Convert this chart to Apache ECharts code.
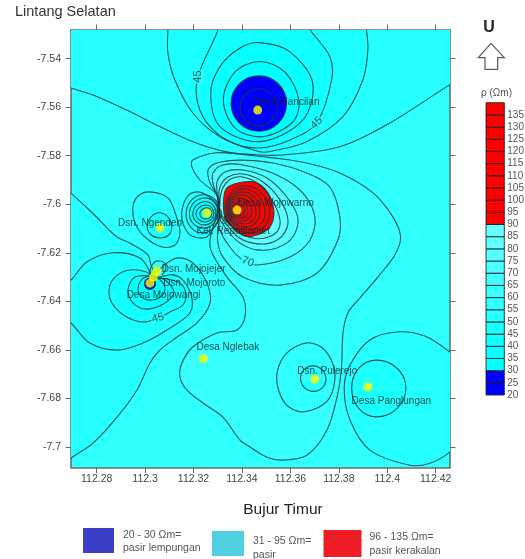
<!DOCTYPE html>
<html><head><meta charset="utf-8">
<style>html,body{margin:0;padding:0;background:#fff}#c{width:525px;height:559px}</style>
<script src="https://cdn.jsdelivr.net/npm/echarts@6/dist/echarts.min.js"></script>
</head><body><div id="c"></div>
<script>
const xTicks=[112.28,112.30,112.32,112.34,112.36,112.38,112.40,112.42];
const yTicks=[-7.54,-7.56,-7.58,-7.60,-7.62,-7.64,-7.66,-7.68,-7.70];
const stationNames=['Desa Mancilan','Desa Wojowarno','Kel. Reposlamet','Dsn. Ngenden','Dsn. Mojojejer','Dsn. Mojoroto','Desa Mojowangi','Desa Nglebak','Dsn. Pulerejo','Desa Panglungan'];
const stationLons=[112.3465,112.3380,112.3255,112.3062,112.3049,112.3034,112.3020,112.3241,112.3701,112.3920];
const stationLats=[-7.5612,-7.6024,-7.6036,-7.6097,-7.6275,-7.6300,-7.6325,-7.6636,-7.6720,-7.6752];
const barLevels=[20,25,30,35,40,45,50,55,60,65,70,75,80,85,90,95,100,105,110,115,120,125,130,135];
const barColors=['#0000ff','#0000ff','#00ffff','#09ffff','#13ffff','#1cffff','#25ffff','#2effff','#38ffff','#41ffff','#4affff','#53ffff','#5dffff','#66ffff','#ff0000','#ff0000','#ff0000','#ff0000','#ff0000','#ff0000','#ff0000','#ff0000','#ff0000','#ff0000'];
const contourLabelText=['45','45','70','45','85'];
const contourLabelLons=[112.3218,112.3708,112.3424,112.3053,112.3342];
const contourLabelLats=[-7.5474,-7.5665,-7.6237,-7.6469,-7.6065];

const m55=[[112.24,-7.5400],[112.2607,-7.5488],[112.2694,-7.5521],[112.2785,-7.5550],[112.2924,-7.5612],[112.3061,-7.5680],[112.3197,-7.5742],[112.3337,-7.5784],[112.3474,-7.5797],[112.3569,-7.5797],[112.3804,-7.5763],[112.4011,-7.5665],[112.4258,-7.5508],[112.4340,-7.5467],[112.46,-7.5300],[112.46,-7.49],[112.24,-7.49]];
const m50=[[112.3094,-7.5240],[112.3094,-7.5281],[112.3094,-7.5376],[112.3123,-7.5488],[112.3197,-7.5624],[112.3309,-7.5722],[112.3474,-7.5784],[112.3528,-7.5780],[112.3667,-7.5742],[112.3817,-7.5639],[112.3899,-7.5488],[112.3920,-7.5364],[112.3914,-7.5281],[112.3907,-7.5240]];
const m45=[[112.3301,-7.5240],[112.3301,-7.5281],[112.3218,-7.5474],[112.3217,-7.5583],[112.3268,-7.5680],[112.3363,-7.5748],[112.3474,-7.5768],[112.3598,-7.5735],[112.3708,-7.5665],[112.3770,-7.5488],[112.3763,-7.5392],[112.3681,-7.5281],[112.3660,-7.5240]];
const m40=[[112.3474,-7.5334],[112.3598,-7.5372],[112.3692,-7.5500],[112.3651,-7.5653],[112.3474,-7.5742],[112.3309,-7.5680],[112.3271,-7.5541],[112.3309,-7.5433],[112.3392,-7.5356]];
const m35=[[112.3474,-7.5412],[112.3577,-7.5455],[112.3635,-7.5570],[112.3610,-7.5661],[112.3482,-7.5722],[112.3371,-7.5685],[112.3323,-7.5570],[112.3371,-7.5455]];
const m30=[[112.3355,-7.5585],[112.3470,-7.5471],[112.3584,-7.5585],[112.3470,-7.5699]];
const m25=[[112.3393,-7.5599],[112.3468,-7.5524],[112.3544,-7.5599],[112.3468,-7.5677]];

const k60=[[112.3309,-7.5994],[112.3289,-7.5953],[112.3226,-7.5900],[112.3193,-7.5846],[112.3197,-7.5818],[112.3292,-7.5788],[112.3392,-7.5794],[112.3528,-7.5809],[112.3667,-7.5830],[112.3804,-7.5871],[112.3941,-7.5953],[112.4023,-7.6052],[112.4055,-7.6135],[112.4031,-7.6209],[112.3961,-7.6300],[112.3879,-7.6395],[112.3837,-7.6448],[112.3817,-7.6531],[112.3811,-7.6671],[112.3796,-7.6778],[112.3751,-7.6930],[112.3668,-7.7034],[112.3569,-7.7054],[112.3503,-7.7042],[112.3433,-7.7000],[112.3392,-7.6972],[112.3321,-7.6877],[112.3239,-7.6819],[112.3173,-7.6766],[112.3144,-7.6712],[112.3152,-7.6654],[112.3197,-7.6588],[112.3297,-7.6530],[112.3380,-7.6518],[112.3412,-7.6465],[112.3404,-7.6382],[112.3338,-7.6300],[112.3276,-7.6200],[112.3268,-7.6147],[112.3289,-7.6065]];
const k65=[[112.3392,-7.5818],[112.3528,-7.5830],[112.3667,-7.5871],[112.3763,-7.5929],[112.3804,-7.6052],[112.3796,-7.6147],[112.3710,-7.6283],[112.3557,-7.6333],[112.3404,-7.6300],[112.3321,-7.6217],[112.3299,-7.6147],[112.3305,-7.6085],[112.3305,-7.6003],[112.3297,-7.5961],[112.3268,-7.5912],[112.3260,-7.5859],[112.3297,-7.5830]];
const k70=[[112.3301,-7.5982],[112.3280,-7.5912],[112.3280,-7.5871],[112.3321,-7.5838],[112.3404,-7.5838],[112.3544,-7.5879],[112.3651,-7.5953],[112.3701,-7.6052],[112.3681,-7.6147],[112.3598,-7.6217],[112.3462,-7.6250],[112.3404,-7.6230],[112.3350,-7.6176],[112.3309,-7.6106],[112.3297,-7.6036]];
const k75=[[112.3301,-7.5982],[112.3297,-7.5908],[112.3330,-7.5867],[112.3404,-7.5859],[112.3503,-7.5892],[112.3585,-7.5970],[112.3631,-7.6057],[112.3610,-7.6135],[112.3544,-7.6180],[112.3462,-7.6188],[112.3392,-7.6160],[112.3338,-7.6106],[112.3301,-7.6044]];
const k80=[[112.3305,-7.5982],[112.3309,-7.5929],[112.3342,-7.5888],[112.3404,-7.5875],[112.3487,-7.5908],[112.3557,-7.5982],[112.3590,-7.6065],[112.3569,-7.6127],[112.3515,-7.6160],[112.3445,-7.6160],[112.3384,-7.6135],[112.3338,-7.6085],[112.3305,-7.6036]];
const k85=[[112.3309,-7.5982],[112.3321,-7.5933],[112.3354,-7.5896],[112.3404,-7.5888],[112.3474,-7.5921],[112.3528,-7.5990],[112.3557,-7.6065],[112.3544,-7.6114],[112.3495,-7.6139],[112.3441,-7.6139],[112.3384,-7.6114],[112.3342,-7.6073],[112.3309,-7.6036]];
const r90=[[112.3325,-7.5970],[112.3342,-7.5929],[112.3404,-7.5908],[112.3462,-7.5912],[112.3507,-7.5953],[112.3532,-7.6032],[112.3515,-7.6094],[112.3462,-7.6127],[112.3412,-7.6131],[112.3363,-7.6098],[112.3330,-7.6057]];
const r95=[[112.3331,-7.6019],[112.3416,-7.5924],[112.3515,-7.6032],[112.3425,-7.6118]];
const r100=[[112.3338,-7.6019],[112.3412,-7.5937],[112.3495,-7.6032],[112.3421,-7.6106]];
const r105=[[112.3342,-7.6021],[112.3408,-7.5949],[112.3474,-7.6032],[112.3412,-7.6094]];
const r110=[[112.3346,-7.6021],[112.3404,-7.5961],[112.3458,-7.6032],[112.3408,-7.6081]];
const r115=[[112.3350,-7.6022],[112.3396,-7.5974],[112.3441,-7.6028],[112.3400,-7.6069]];
const r120=[[112.3356,-7.6024],[112.3392,-7.5986],[112.3425,-7.6028],[112.3394,-7.6057]];
const r125=[[112.3363,-7.6026],[112.3388,-7.5996],[112.3412,-7.6025],[112.3388,-7.6048]];
const r130=[[112.3367,-7.6026],[112.3384,-7.6007],[112.3400,-7.6024],[112.3384,-7.6040]];

const kel55=[[112.3151,-7.6036],[112.3173,-7.5970],[112.3214,-7.5949],[112.3260,-7.5966],[112.3301,-7.6007],[112.3317,-7.6044],[112.3295,-7.6077],[112.3254,-7.6135],[112.3193,-7.6131],[112.3160,-7.6089]];
const kel50=[[112.3169,-7.6040],[112.3239,-7.5961],[112.3309,-7.6032],[112.3239,-7.6118]];
const kel45=[[112.3183,-7.6040],[112.3243,-7.5974],[112.3301,-7.6032],[112.3243,-7.6098]];
const kel40=[[112.3197,-7.6040],[112.3247,-7.5989],[112.3292,-7.6034],[112.3247,-7.6085]];
const kel35=[[112.3210,-7.6040],[112.3249,-7.6003],[112.3284,-7.6036],[112.3249,-7.6073]];
const kel33=[[112.3226,-7.6040],[112.3251,-7.6015],[112.3276,-7.6036],[112.3251,-7.6061]];

const nge55=[[112.3020,-7.5949],[112.3094,-7.5974],[112.3127,-7.6044],[112.3144,-7.6118],[112.3123,-7.6168],[112.3070,-7.6176],[112.3004,-7.6139],[112.2962,-7.6085],[112.2949,-7.6015],[112.2971,-7.5966]];
const nge50=[[112.3009,-7.6093],[112.3061,-7.6035],[112.3110,-7.6098],[112.3061,-7.6139]];

const d55=[[112.2628,-7.5900],[112.2694,-7.5955],[112.2785,-7.6038],[112.2882,-7.6134],[112.2937,-7.6160],[112.3012,-7.6209],[112.3024,-7.6250],[112.3041,-7.6279],[112.3090,-7.6242],[112.3136,-7.6221],[112.3197,-7.6242],[112.3255,-7.6324],[112.3268,-7.6407],[112.3214,-7.6489],[112.3132,-7.6547],[112.3061,-7.6601],[112.3020,-7.6654],[112.2966,-7.6766],[112.2884,-7.6877],[112.2785,-7.6984],[112.2694,-7.7046],[112.2628,-7.7096]];
const d50=[[112.2628,-7.6353],[112.2694,-7.6312],[112.2759,-7.6238],[112.2867,-7.6200],[112.2979,-7.6221],[112.3020,-7.6279],[112.3032,-7.6308],[112.3074,-7.6296],[112.3115,-7.6291],[112.3156,-7.6312],[112.3192,-7.6382],[112.3185,-7.6448],[112.3090,-7.6518],[112.2991,-7.6572],[112.2884,-7.6601],[112.2772,-7.6572],[112.2694,-7.6489],[112.2628,-7.6436]];
const d45=[[112.3006,-7.6279],[112.3032,-7.6300],[112.3090,-7.6308],[112.3144,-7.6325],[112.3168,-7.6366],[112.3156,-7.6415],[112.3103,-7.6444],[112.3053,-7.6469],[112.2991,-7.6485],[112.2917,-7.6460],[112.2863,-7.6407],[112.2852,-7.6345],[112.2880,-7.6296],[112.2937,-7.6271]];
const d40=[[112.2929,-7.6353],[112.2958,-7.6300],[112.3028,-7.6296],[112.3082,-7.6312],[112.3119,-7.6362],[112.3082,-7.6407],[112.3008,-7.6432],[112.2950,-7.6407]];
const d35=[[112.2971,-7.6349],[112.3020,-7.6296],[112.3082,-7.6349],[112.3020,-7.6395]];
const d30=[[112.2997,-7.6327],[112.3020,-7.6304],[112.3043,-7.6327],[112.3020,-7.6351]];
const dTop=[[112.3020,-7.6291],[112.3032,-7.6246],[112.3061,-7.6234],[112.3086,-7.6254],[112.3070,-7.6291]];

const pul60=[[112.3543,-7.6716],[112.3577,-7.6621],[112.3667,-7.6571],[112.3742,-7.6601],[112.3784,-7.6695],[112.3755,-7.6807],[112.3652,-7.6856],[112.3577,-7.6819]];
const pul55=[[112.3642,-7.6716],[112.3694,-7.6666],[112.3747,-7.6720],[112.3694,-7.6771]];
const pan55=[[112.4258,-7.6609],[112.4155,-7.6543],[112.4040,-7.6526],[112.3928,-7.6559],[112.3846,-7.6662],[112.3822,-7.6757],[112.3846,-7.6889],[112.3928,-7.7013],[112.4093,-7.7075],[112.4176,-7.7067],[112.4258,-7.7021],[112.4340,-7.6930],[112.4340,-7.6683]];
const pan50=[[112.3853,-7.6757],[112.3956,-7.6642],[112.4077,-7.6757],[112.3956,-7.6876]];

// contour, band index it encloses, open (closing edge is not drawn)
const contours=[
 [m55,50,1],[m50,45,1],[m45,40,1],[m40,35],[m35,30],[m30,25],[m25,20],
 [k60,60],[k65,65],[k70,70],[k75,75],[k80,80],[k85,85],[r90,90],[r95,95],[r100,100],[r105,105],[r110,110],[r115,115],[r120,120],[r125,125],[r130,130],
 [d55,50,1],[d50,45,1],[d45,40],[d40,35],[d35,30],[d30,25],[dTop,null,2],
 [nge55,50],[nge50,45],
 [kel55,50],[kel50,45],[kel45,40],[kel40,35],[kel35,30],[kel33,30],
 [pul60,55],[pul55,50],[pan55,50],[pan50,45]
];
const BG='#2effff', LINE='rgba(20,58,62,0.85)', FONT='"Liberation Sans",Arial,sans-serif';
const bandColor=b=>barColors[barLevels.indexOf(b)];
const smoothFor=pts=>pts.length<=5?0.55:0.33;

function fillItem(p,api){
  const c=contours[p.dataIndex]; if(c[1]==null) return {type:'group',children:[]};
  return {type:'polygon',shape:{points:c[0].map(q=>api.coord(q)),smooth:smoothFor(c[0]),smoothConstraint:false},style:{fill:bandColor(c[1]),stroke:null}};
}
function lineItem(p,api){
  const c=contours[p.dataIndex], pts=c[0].map(q=>api.coord(q));
  return {type:c[2]?'polyline':'polygon',shape:{points:pts,smooth:smoothFor(c[0]),smoothConstraint:false},style:{fill:null,stroke:LINE,lineWidth:1.1}};
}
const idx=contours.map((c,i)=>[i]);
const fmt=v=>String(+(+v).toFixed(2));
const axisLine={show:true,onZero:false,lineStyle:{color:'#5f6b6b',width:1.5}};
const tickStyle=vals=>({show:true,length:5.5,customValues:vals,lineStyle:{color:'#5f6b6b',width:1}});
const X={type:'value',min:112.2694,max:112.4259,gridIndex:0,splitLine:{show:false},axisLine};
const Y={type:'value',min:-7.7085,max:-7.5282,gridIndex:0,splitLine:{show:false},axisLine};
const labelShift={ 'Desa Mancilan':[-8.9,-8.3],'Desa Wojowarno':[-3.8,-7.3],'Kel. Reposlamet':[-14.8,18.7],'Dsn. Ngenden':[-46.5,-5],'Dsn. Mojojejer':[0.2,-1.7],'Dsn. Mojoroto':[5.3,5.7],'Desa Mojowangi':[-27.8,12],'Desa Nglebak':[-11.5,-11.4],'Dsn. Pulerejo':[-22.2,-8],'Desa Panglungan':[-20.8,14.3]};
const labelRot=[90,45,-20,15,70], labelBg=['#2effff','#25ffff','#41ffff','#25ffff','transparent'];

const legendSw=[
 {c:'#3b3fc7',x:83,y:528,w:31,h:25,t:['20 - 30 Ωm=','pasir lempungan'],tx:123,ty:[535,548.5]},
 {c:'#4fd0e0',x:212,y:531,w:32,h:25,t:['31 - 95 Ωm=','pasir'],tx:253,ty:[541,555]},
 {c:'#ee1c25',x:323.5,y:530,w:38,h:27,t:['96 - 135 Ωm=','pasir kerakalan'],tx:369.5,ty:[537,551]}
];
const gfx=[
 {type:'text',x:15,y:12,style:{text:'Lintang Selatan',font:'14.5px '+FONT,fill:'#333',align:'left',verticalAlign:'middle'}},
 {type:'text',x:283,y:509.5,style:{text:'Bujur Timur',font:'15.5px '+FONT,fill:'#222',align:'center',verticalAlign:'middle'}},
 {type:'text',x:489,y:28,style:{text:'U',font:'bold 16px '+FONT,fill:'#222',align:'center',verticalAlign:'middle'}},
 {type:'polygon',shape:{points:[[491,43.3],[478.3,57.7],[485,57.7],[485,69.3],[497.7,69.3],[497.7,57.7],[504.3,57.7]]},style:{fill:'#fff',stroke:'#5a5a5a',lineWidth:1.2}},
 {type:'text',x:496.5,y:93.5,style:{text:'ρ (Ωm)',font:'10px '+FONT,fill:'#5a4a5a',align:'center',verticalAlign:'middle'}}
];
legendSw.forEach(s=>{
  gfx.push({type:'rect',shape:{x:s.x,y:s.y,width:s.w,height:s.h},style:{fill:s.c}});
  s.t.forEach((t,i)=>gfx.push({type:'text',x:s.tx,y:s.ty[i],style:{text:t,font:'10.5px '+FONT,fill:'#555',align:'left',verticalAlign:'middle'}}));
});

const chart=echarts.init(document.getElementById('c'),null,{renderer:'canvas'});
chart.setOption({
 animation:false,backgroundColor:'#fff',
 grid:[
  {left:71,top:30,width:379,height:437.6,show:true,backgroundColor:BG,borderWidth:0,containLabel:false,outerBoundsMode:'none'},
  {left:486,top:102.7,width:18.3,height:292.3,containLabel:false,outerBoundsMode:'none'}
 ],
 xAxis:[
  {...X,position:'bottom',axisTick:tickStyle(xTicks),axisLabel:{show:true,customValues:xTicks,formatter:fmt,color:'#444',fontSize:10.5,fontFamily:FONT,margin:6}},
  {...X,position:'top',axisTick:tickStyle(xTicks),axisLabel:{show:false}},
  {type:'value',gridIndex:1,min:0,max:1,show:false}
 ],
 yAxis:[
  {...Y,position:'left',axisTick:tickStyle(yTicks),axisLabel:{show:true,customValues:yTicks,formatter:fmt,color:'#444',fontSize:10.5,fontFamily:FONT,margin:10}},
  {...Y,position:'right',axisTick:tickStyle(yTicks),axisLabel:{show:false}},
  {type:'value',gridIndex:1,position:'right',min:20,max:140,interval:5,splitLine:{show:false},axisLine:{show:false},axisTick:{show:false},
   axisLabel:{color:'#555',fontSize:10,fontFamily:FONT,margin:3,showMaxLabel:false}}
 ],
 series:[
  {type:'custom',coordinateSystem:'cartesian2d',xAxisIndex:0,yAxisIndex:0,clip:true,silent:true,z:2,data:idx,renderItem:fillItem,encode:{x:[],y:[]}},
  {type:'custom',coordinateSystem:'cartesian2d',xAxisIndex:0,yAxisIndex:0,clip:true,silent:true,z:3,data:idx,renderItem:lineItem,encode:{x:[],y:[]}},
  {type:'scatter',xAxisIndex:0,yAxisIndex:0,z:4,symbolSize:0,silent:true,
   data:contourLabelText.map((t,i)=>({value:[contourLabelLons[i],contourLabelLats[i]],
     label:{show:true,position:'inside',formatter:t,rotate:labelRot[i],color:'#14302f',fontSize:11,fontFamily:FONT,backgroundColor:labelBg[i],padding:[0,1]}}))},
  {type:'scatter',xAxisIndex:0,yAxisIndex:0,z:5,symbol:'circle',symbolSize:9,silent:true,itemStyle:{color:'#ffff00'},
   data:stationNames.map((n,i)=>({value:[stationLons[i],stationLats[i]],
     label:{show:true,position:'right',distance:0,offset:labelShift[n],formatter:n,color:'#0a2024',fontSize:10,fontFamily:FONT,align:'left',verticalAlign:'middle'}}))},
  {type:'custom',coordinateSystem:'cartesian2d',xAxisIndex:2,yAxisIndex:2,silent:true,clip:false,z:2,
   data:barLevels.map((l,i)=>[i]),encode:{x:[],y:[]},
   renderItem(p,api){
     const l=barLevels[p.dataIndex];
     const a=api.coord([0,l+5]),b=api.coord([1,l]);
     return {type:'rect',shape:{x:a[0],y:a[1],width:b[0]-a[0],height:b[1]-a[1]},style:{fill:barColors[p.dataIndex],stroke:'rgba(30,30,30,0.85)',lineWidth:1}};
   }}
 ],
 graphic:{elements:gfx}
});
</script></body></html>
